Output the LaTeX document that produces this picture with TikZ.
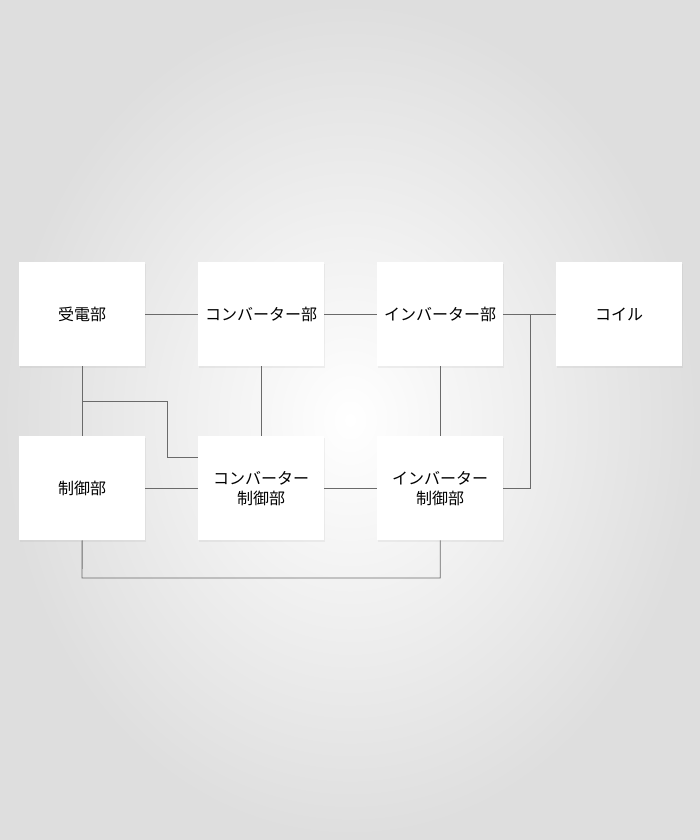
\documentclass[tikz,border=0pt]{standalone}
\usepackage{fontspec}
\setmainfont{Noto Sans CJK JP}
\usetikzlibrary{shadows}
\definecolor{linegray}{HTML}{6A6A6A}
\begin{document}
\begin{tikzpicture}[x=1pt,y=-1pt,
  blk/.style={fill=white, minimum width=126pt, minimum height=104pt, inner sep=0pt, anchor=north west,
    font=\fontsize{16}{20}\selectfont, align=center,
    drop shadow={shadow xshift=0.6pt, shadow yshift=-1.4pt, opacity=0.10}},
  wire/.style={draw=linegray, line width=0.9pt}]
\shade[inner color=white, outer color=black!13] (0,0) rectangle (700,840);
\useasboundingbox (0,0) rectangle (700,840);
\node[blk] (ju) at (19,262) {受電部};
\node[blk] (cv) at (198,262) {コンバーター部};
\node[blk] (iv) at (377,262) {インバーター部};
\node[blk] (co) at (556,262) {コイル};
\node[blk] (sg) at (19,436) {制御部};
\node[blk] (cs) at (198,436) {コンバーター\\制御部};
\node[blk] (is) at (377,436) {インバーター\\制御部};
\coordinate (j1) at (82,401);
\coordinate (j2) at (530,314);
\draw[wire] (ju.east) -- (cv.west);
\draw[wire] (cv.east) -- (iv.west);
\draw[wire] (iv.east) -- (co.west);
\draw[wire] (j2) |- (is.east);
\draw[wire] (ju.south) -- (sg.north);
\draw[wire] (j1) -| (167,457) -- (cs.west |- 0,457);
\draw[wire] (cv.south) -- (cs.north);
\draw[wire] (iv.south) -- (is.north);
\draw[wire] (sg.east) -- (cs.west);
\draw[wire] (cs.east) -- (is.west);
\draw[wire] (sg.south) -- (82,578) -| (is.south);
\end{tikzpicture}
\end{document}
